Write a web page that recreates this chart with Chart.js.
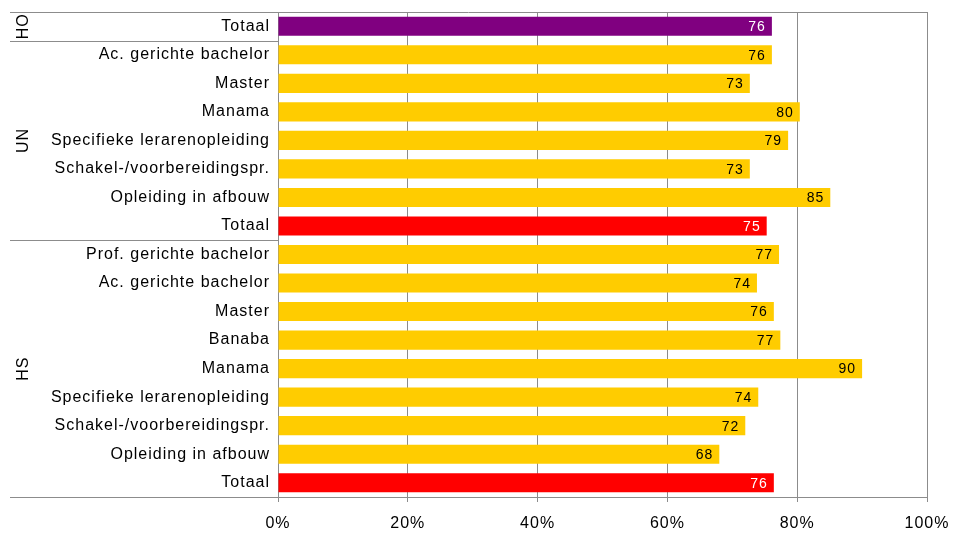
<!DOCTYPE html>
<html>
<head>
<meta charset="utf-8">
<script src="https://cdn.jsdelivr.net/npm/chart.js@4"></script>
<style>
  body { margin: 0; background: #fff; }
  #wrap { width: 954px; height: 533px; }
</style>
</head>
<body>
<div id="wrap"><canvas id="chart" width="954" height="533"></canvas></div>
<script>
// chart data
const categories = [
	"Totaal",
	"Ac. gerichte bachelor", "Master", "Manama", "Specifieke lerarenopleiding",
	"Schakel-/voorbereidingspr.", "Opleiding in afbouw", "Totaal",
	"Prof. gerichte bachelor", "Ac. gerichte bachelor", "Master", "Banaba", "Manama",
	"Specifieke lerarenopleiding", "Schakel-/voorbereidingspr.", "Opleiding in afbouw", "Totaal"
];
const values = [76.1, 76.1, 72.7, 80.4, 78.6, 72.7, 85.1, 75.3, 77.2, 73.8, 76.4, 77.4, 90, 74, 72, 68, 76.4];
const barColors = [
	"#800080",
	"#FFCC00", "#FFCC00", "#FFCC00", "#FFCC00", "#FFCC00", "#FFCC00", "#FF0000",
	"#FFCC00", "#FFCC00", "#FFCC00", "#FFCC00", "#FFCC00", "#FFCC00", "#FFCC00", "#FFCC00", "#FF0000"
];
const groups = ["HO", "UN", "HS"];
const groupStart = [0, 1, 8];
const groupEnd = [0, 7, 16];
const xTicks = [0, 20, 40, 60, 80, 100];

const lineColor = "#8c8c8c";
const fontFam = "'Liberation Sans', Arial, sans-serif";

// loose letter spacing like the original
const spacing = {
	id: "spacing",
	beforeDraw(chart) { chart.ctx.letterSpacing = "1px"; },
	afterDraw(chart) { chart.ctx.letterSpacing = "0px"; }
};

// group labels, separators, frame and value labels
const extras = {
	id: "extras",
	afterDatasetsDraw(chart) {
		const ctx = chart.ctx;
		const y = chart.scales.y;
		const area = chart.chartArea;
		const half = (y.getPixelForValue(1) - y.getPixelForValue(0)) / 2;

		ctx.save();
		// value labels
		ctx.font = "14px " + fontFam;
		ctx.textAlign = "right";
		ctx.textBaseline = "middle";
		chart.getDatasetMeta(0).data.forEach((bar, i) => {
			ctx.fillStyle = barColors[i] == "#FFCC00" ? "#000" : "#fff";
			ctx.fillText(Math.round(values[i]), bar.x - 6, bar.y + 1);
		});

		// frame top + separators
		ctx.strokeStyle = lineColor;
		ctx.lineWidth = 1;
		ctx.beginPath();
		ctx.moveTo(10, Math.round(area.top) + 0.5);
		ctx.lineTo(area.right, Math.round(area.top) + 0.5);
		for (let g = 0; g < groups.length; g++) {
			let yy = Math.round(y.getPixelForValue(groupEnd[g]) + half) + 0.5;
			ctx.moveTo(10, yy);
			ctx.lineTo(area.left, yy);
		}
		ctx.stroke();

		// group labels
		ctx.fillStyle = "#000";
		ctx.font = "16px " + fontFam;
		ctx.textAlign = "center";
		ctx.textBaseline = "middle";
		for (let g = 0; g < groups.length; g++) {
			let mid = (y.getPixelForValue(groupStart[g]) + y.getPixelForValue(groupEnd[g])) / 2;
			ctx.save();
			ctx.translate(24, mid);
			ctx.rotate(-Math.PI / 2);
			ctx.fillText(groups[g], 0, 0);
			ctx.restore();
		}
		ctx.restore();
	}
};

Chart.defaults.font.family = fontFam;
Chart.defaults.color = "#000";

new Chart(document.getElementById("chart"), {
	type: "bar",
	data: {
		labels: categories,
		datasets: [{
			data: values,
			backgroundColor: barColors,
			borderWidth: 0,
			categoryPercentage: 1,
			barPercentage: 0.67
		}]
	},
	options: {
		indexAxis: "y",
		responsive: false,
		animation: false,
		layout: { padding: { top: 12, right: 27, left: 0, bottom: 0 } },
		plugins: { legend: { display: false }, tooltip: { enabled: false } },
		scales: {
			x: {
				min: 0,
				max: 100,
				afterBuildTicks: (scale) => { scale.ticks = xTicks.map(v => ({ value: v })); },
				afterFit: (scale) => {
					scale.height = 36;
					scale.paddingLeft = 0;
					scale.paddingRight = 0;
				},
				ticks: {
					callback: (v) => v + "%",
					font: { size: 16 },
					padding: 12,
					maxRotation: 0
				},
				grid: { color: lineColor, tickLength: 5, tickColor: lineColor },
				border: { color: lineColor }
			},
			y: {
				afterFit: (scale) => {
					scale.width = 278;
					scale.paddingTop = 0;
					scale.paddingBottom = 0;
				},
				ticks: { font: { size: 16 }, padding: 0, autoSkip: false },
				grid: { display: false },
				border: { color: lineColor }
			}
		}
	},
	plugins: [spacing, extras]
});
</script>
</body>
</html>
